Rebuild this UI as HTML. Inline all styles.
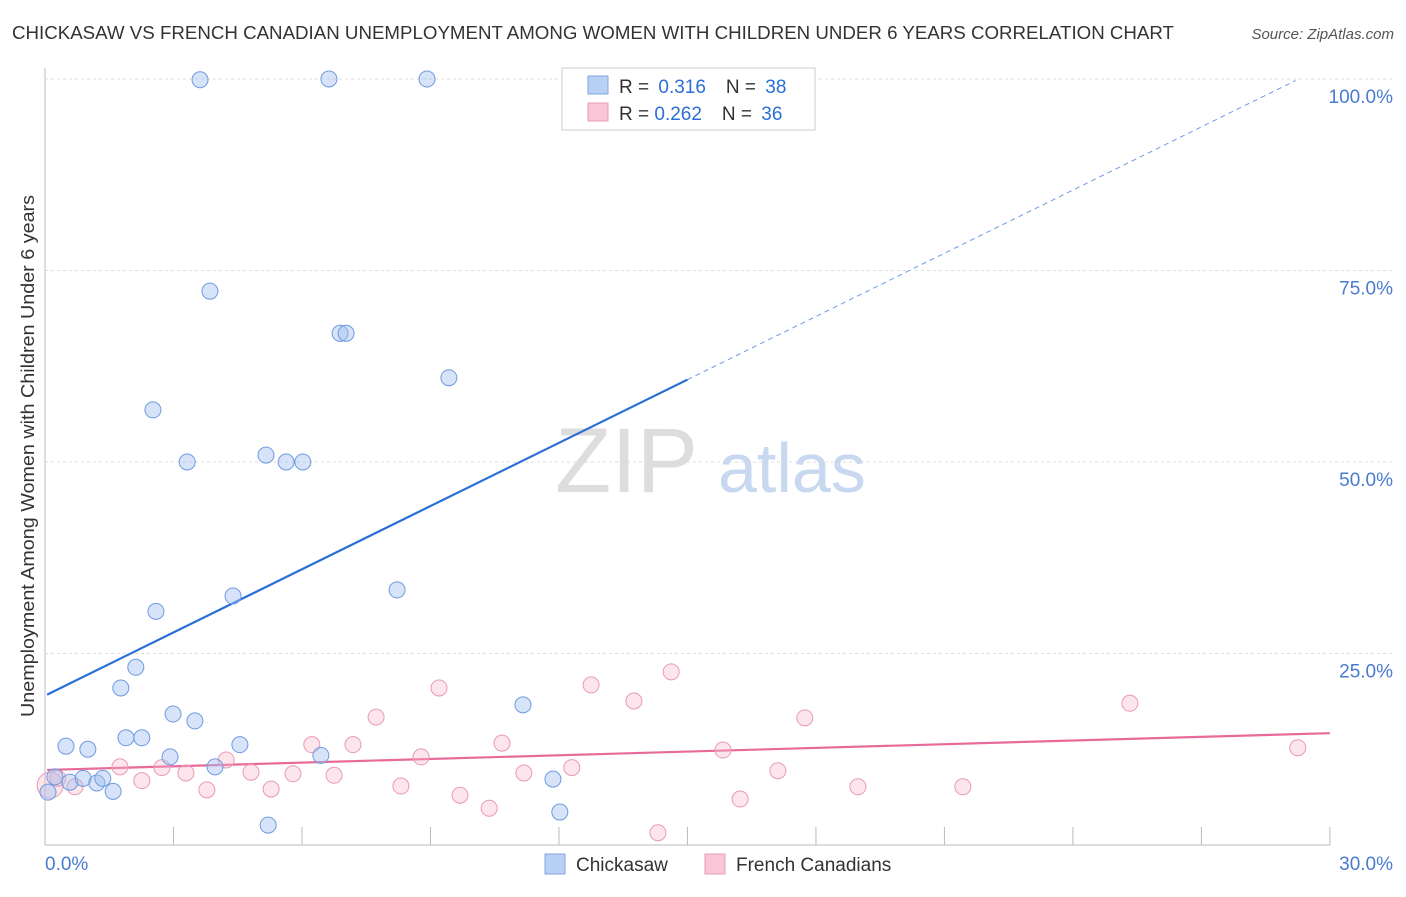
<!DOCTYPE html>
<html><head><meta charset="utf-8">
<style>
body{margin:0;background:#fff;font-family:"Liberation Sans",sans-serif;}
svg text{font-family:"Liberation Sans",sans-serif;}
</style></head>
<body>
<svg id="chart" width="1406" height="892" xmlns="http://www.w3.org/2000/svg">
<text x="12" y="39" font-size="18" fill="#333" textLength="1162" lengthAdjust="spacingAndGlyphs">CHICKASAW VS FRENCH CANADIAN UNEMPLOYMENT AMONG WOMEN WITH CHILDREN UNDER 6 YEARS CORRELATION CHART</text>
<text x="1394" y="39" font-size="15" fill="#555" text-anchor="end" font-style="italic">Source: ZipAtlas.com</text>
<g id="grid"></g>
<text x="555" y="492" font-size="92" fill="#ddd" font-family="Liberation Serif">ZIP</text>
<text x="718" y="492" font-size="70" fill="#c8d8f0">atlas</text>
<g id="lines"></g>
<g id="points"></g>
<text transform="translate(34,456) rotate(-90)" font-size="18" fill="#333" text-anchor="middle" textLength="522" lengthAdjust="spacingAndGlyphs">Unemployment Among Women with Children Under 6 years</text>
<g>
<rect x="562" y="68" width="253" height="62" fill="#fff" stroke="#ccc"/>
<rect x="588" y="76" width="20" height="18" fill="#b8d0f4" stroke="#7fa6e0"/>
<rect x="588" y="103" width="20" height="18" fill="#f8c6d6" stroke="#e99ab5"/>
<text x="619" y="93" font-size="19" fill="#333">R = <tspan fill="#2a6fd6" dx="4">0.316</tspan><tspan dx="20">N = </tspan><tspan fill="#2a6fd6" dx="4">38</tspan></text>
<text x="619" y="120" font-size="19" fill="#333">R = <tspan fill="#2a6fd6">0.262</tspan><tspan dx="20">N = </tspan><tspan fill="#2a6fd6" dx="4">36</tspan></text>
</g>
<g>
<rect x="545" y="854" width="20" height="20" fill="#b8d0f4" stroke="#7fa6e0"/>
<text x="576" y="871" font-size="19" fill="#333">Chickasaw</text>
<rect x="705" y="854" width="20" height="20" fill="#f8c6d6" stroke="#e99ab5"/>
<text x="736" y="871" font-size="19" fill="#333">French Canadians</text>
</g>
<text x="45" y="870" font-size="19" fill="#4a7bd0">0.0%</text>
<text x="1393" y="870" font-size="19" fill="#4a7bd0" text-anchor="end">30.0%</text>
</svg>
<script>
const blueX=[3.62,6.63,8.92,3.85,6.89,7.03,9.43,2.52,3.32,5.16,5.63,6.02,8.22,4.39,2.59,2.12,1.77,11.16,2.99,3.50,1.89,2.26,0.49,1.00,4.55,2.92,6.44,3.97,0.23,0.58,0.89,1.21,1.35,1.59,11.86,5.21,12.02,0.07];
const blueY=[99.9,100,100,72.3,66.8,66.8,61.0,56.8,50,50.9,50,50,33.3,32.5,30.5,23.2,20.5,18.3,17.1,16.2,14.0,14.0,12.9,12.5,13.1,11.5,11.7,10.2,8.9,8.2,8.7,8.1,8.7,7.0,8.6,2.6,4.3,6.9];
const pinkX=[0.12,0.3,0.7,1.75,2.26,2.73,3.29,3.78,4.23,4.81,5.28,5.79,6.23,6.75,7.19,7.73,8.31,8.78,9.20,9.69,10.37,10.67,11.18,12.30,12.75,13.75,14.31,14.62,15.83,16.23,17.11,17.74,18.98,21.43,25.33,29.25];
const pinkY=[7.8,8.7,7.6,10.2,8.4,10.1,9.4,7.2,11.1,9.5,7.3,9.3,13.1,9.1,13.1,16.7,7.7,11.5,20.5,6.5,4.8,13.3,9.4,10.1,20.9,18.8,1.6,22.6,12.4,6.0,9.7,16.6,7.6,7.6,18.5,12.7];
const yTicks=[25,50,75,100];
const yTickLabels=["25.0%","50.0%","75.0%","100.0%"];
const xTicks=[3,6,9,12,15,18,21,24,27,30];
const blueTrend=[19.5,2.75];
const pinkTrend=[9.8,0.16];
const NS="http://www.w3.org/2000/svg";
const sx=v=>45+v*42.83, sy=v=>845-v*7.66;
function mk(tag,attrs,parent){const e=document.createElementNS(NS,tag);for(const k in attrs)e.setAttribute(k,attrs[k]);parent.appendChild(e);return e;}
const grid=document.getElementById('grid');
let ax=mk('line',{x1:45,y1:68,x2:45,y2:845,stroke:'#bbb'},grid);


let bx=mk('line',{x1:45,y1:845,x2:1330,y2:845,stroke:'#bbb'},grid);


yTicks.forEach((t,i)=>{
 const g=mk('line',{x1:45,y1:sy(t),x2:1395,y2:sy(t),stroke:'#ddd','stroke-dasharray':'3,3'},grid);
 
 
 const tx=mk('text',{x:1393,y:sy(t)+24,'font-size':19,fill:'#4a7bd0','text-anchor':'end'},grid);
 tx.textContent=yTickLabels[i];
 
 
});
xTicks.forEach(t=>{
 const l=mk('line',{x1:sx(t),y1:827,x2:sx(t),y2:845,stroke:'#bbb'},grid);
 
 
});
const lines=document.getElementById('lines');
const bEnd=15.0;
let b1=mk('line',{x1:sx(0.05),y1:sy(blueTrend[0]+blueTrend[1]*0.05),x2:sx(bEnd),y2:sy(blueTrend[0]+blueTrend[1]*bEnd),stroke:'#2a6fd6','stroke-width':2.2},lines);


let b2=mk('line',{x1:sx(bEnd),y1:sy(blueTrend[0]+blueTrend[1]*bEnd),x2:sx(29.2),y2:sy(blueTrend[0]+blueTrend[1]*29.2),stroke:'#6f9be0','stroke-width':1,'stroke-dasharray':'5,4'},lines);


let p1=mk('line',{x1:sx(0.05),y1:sy(pinkTrend[0]),x2:sx(30),y2:sy(pinkTrend[0]+pinkTrend[1]*30),stroke:'#e86a9a','stroke-width':2.2},lines);


const pts=document.getElementById('points');
pinkX.forEach((x,i)=>{
 const c=mk('circle',{cx:sx(x),cy:sy(pinkY[i]),r:i==0?13:8,fill:'rgba(248,180,200,0.35)',stroke:'#e99ab5','stroke-width':1},pts);
 
 
});
blueX.forEach((x,i)=>{
 const c=mk('circle',{cx:sx(x),cy:sy(blueY[i]),r:8,fill:'rgba(164,194,240,0.45)',stroke:'#6f9be0','stroke-width':1},pts);
 
 
});
</script>
</body></html>
